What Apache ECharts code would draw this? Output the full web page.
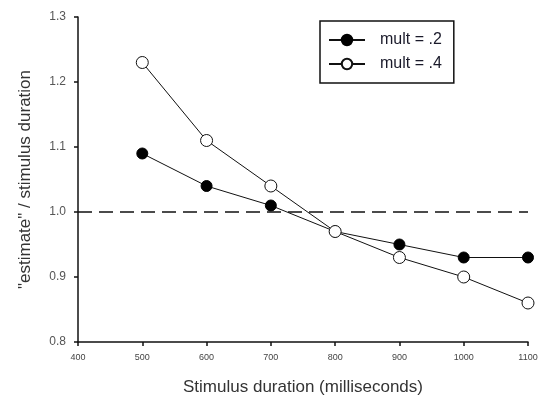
<!DOCTYPE html>
<html><head><meta charset="utf-8">
<script src="https://cdn.jsdelivr.net/npm/echarts@6/dist/echarts.min.js"></script>
<style>html,body{margin:0;padding:0;background:#fff}#c{width:543px;height:401px}</style>
</head><body><div id="c"></div>
<script>
const xValues = [500, 600, 700, 800, 900, 1000, 1100];
const mult2 = [1.09, 1.04, 1.01, 0.97, 0.95, 0.93, 0.93];
const mult4 = [1.23, 1.11, 1.04, 0.97, 0.93, 0.90, 0.86];
const seriesNames = ['mult = .2', 'mult = .4'];
const refValue = 1.0;

const chart = echarts.init(document.getElementById('c'), null, {renderer: 'canvas'});
const pair = arr => xValues.map((x, i) => [x, arr[i]]);
chart.setOption({
  animation: false,
  backgroundColor: '#fff',
  grid: {left: 78, right: 15, top: 17, bottom: 59, containLabel: false},
  legend: {
    left: 320, top: 21, orient: 'vertical', itemGap: 8,
    padding: [11, 12, 11, 8],
    borderColor: '#111', borderWidth: 1.5,
    itemWidth: 36, itemHeight: 13,
    textStyle: {fontFamily: 'Liberation Sans, Arial', fontSize: 16, color: '#1a1a2a', padding: [0, 0, 0, 10]},
    data: seriesNames
  },
  xAxis: {
    type: 'value', min: 400, max: 1100, interval: 100,
    name: 'Stimulus duration (milliseconds)', nameLocation: 'middle', nameGap: 37,
    nameTextStyle: {fontFamily: 'Liberation Sans, Arial', fontSize: 17, color: '#333'},
    axisLine: {lineStyle: {color: '#111', width: 1.5}},
    axisTick: {inside: false, length: 4, lineStyle: {color: '#111', width: 1.5}},
    axisLabel: {fontFamily: 'Liberation Sans, Arial', fontSize: 9, color: '#444', margin: 11,
      formatter: v => String(v)},
    splitLine: {show: false}
  },
  yAxis: {
    type: 'value', min: 0.8, max: 1.3, interval: 0.1,
    name: '"estimate" / stimulus duration', nameLocation: 'middle', nameGap: 44, nameRotate: 90,
    nameTextStyle: {fontFamily: 'Liberation Sans, Arial', fontSize: 17, color: '#333'},
    axisLine: {lineStyle: {color: '#111', width: 1.5}},
    axisTick: {inside: false, length: 4, lineStyle: {color: '#111', width: 1.5}},
    axisLabel: {fontFamily: 'Liberation Sans, Arial', fontSize: 12, color: '#555', margin: 12,
      formatter: v => v.toFixed(1)},
    splitLine: {show: false}
  },
  series: [
    {
      name: seriesNames[0], type: 'line', data: pair(mult2),
      symbol: 'circle', symbolSize: 11,
      lineStyle: {color: '#111', width: 1},
      itemStyle: {color: '#000', borderColor: '#000', borderWidth: 1},
      z: 3,
      markLine: {
        silent: true, symbol: 'none', label: {show: false},
        lineStyle: {color: '#111', type: [14, 7], width: 1.5},
        data: [{yAxis: refValue}]
      }
    },
    {
      name: seriesNames[1], type: 'line', data: pair(mult4),
      symbol: 'circle', symbolSize: 12,
      lineStyle: {color: '#111', width: 1},
      itemStyle: {color: '#fff', borderColor: '#111', borderWidth: 1},
      z: 4
    }
  ]
});
</script></body></html>
